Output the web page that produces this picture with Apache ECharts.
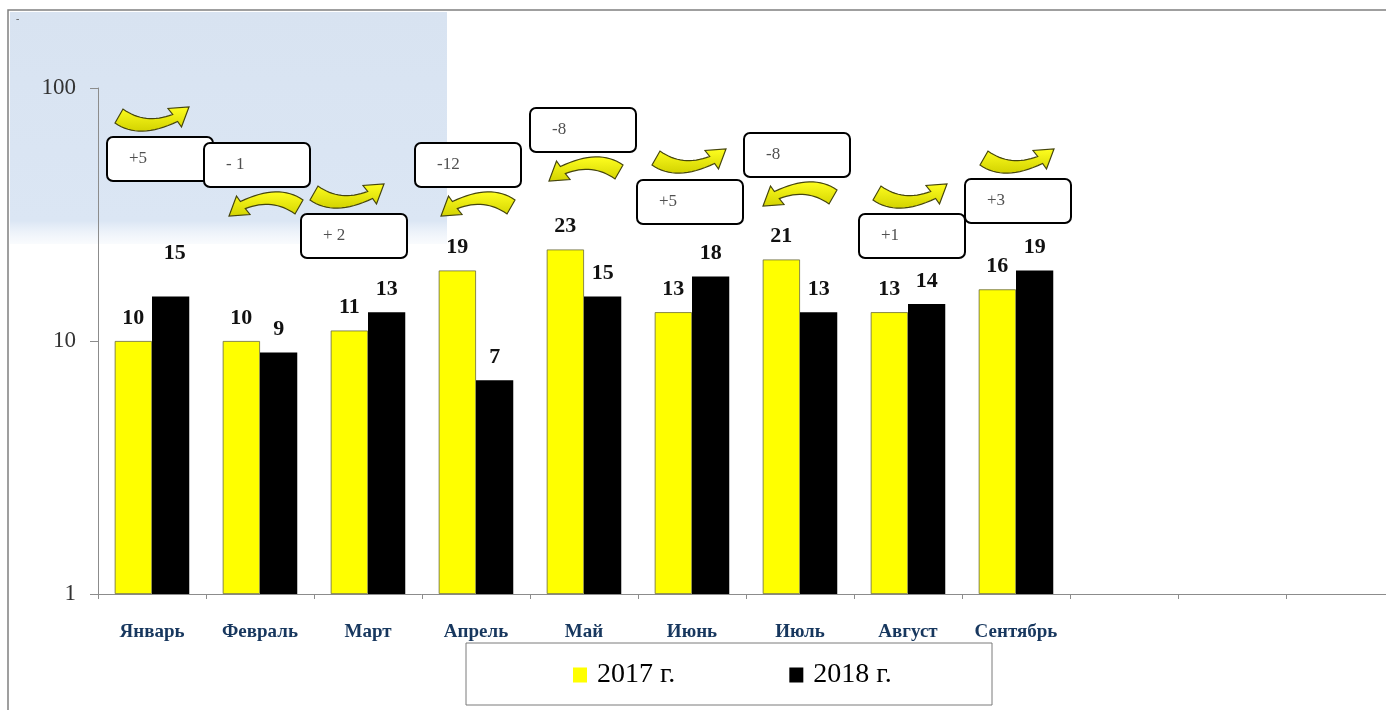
<!DOCTYPE html>
<html><head><meta charset="utf-8">
<script src="https://cdn.jsdelivr.net/npm/echarts@6/dist/echarts.min.js"></script>
<style>html,body{margin:0;padding:0;background:#fff;overflow:hidden}#c{width:1394px;height:710px}</style>
</head><body><div id="c"></div>
<script>
// ---- data ----
const categories = ['Январь','Февраль','Март','Апрель','Май','Июнь','Июль','Август','Сентябрь','','',''];
const values2017 = [10,10,11,19,23,13,21,13,16,null,null,null];
const values2018 = [15,9,13,7,15,18,13,14,19,null,null,null];
const seriesNames = ['2017 г.','2018 г.'];
const yTickLabels = ['1','10','100'];
const changeLabels = ['+5','- 1','+ 2','-12','-8','+5','-8','+1','+3'];

// ---- annotation layout (pixel offsets from category centre / absolute top) ----
const annotLayout = [
  {box:[-45,137], arrow:[-37,106]},
  {box:[-56,143], arrow:[-31,193]},
  {box:[-67,214], arrow:[-58,183]},
  {box:[-61,143], arrow:[-35,193]},
  {box:[-54,108], arrow:[-35,158]},
  {box:[-55,180], arrow:[-40,148]},
  {box:[-56,133], arrow:[-37,183]},
  {box:[-49,214], arrow:[-35,183]},
  {box:[-51,179], arrow:[-36,148]}
];

const SERIF = '"Liberation Serif","DejaVu Serif",serif';
const chart = echarts.init(document.getElementById('c'));

function mkData(vals, overrides){
  return vals.map((v,i)=> overrides[i] ? {value:v, label:overrides[i]} : v);
}
const labelBase = {show:true, position:'top', distance:12, fontFamily:SERIF, fontWeight:'bold', fontSize:22, color:'#111'};

const option = {
  animation:false,
  backgroundColor:'#fff',
  grid:{left:98, right:0, top:88, bottom:116, containLabel:false},
  legend:{
    data:seriesNames, left:568, top:656, icon:'rect', itemWidth:14, itemHeight:15, itemGap:114,
    selectedMode:false, itemStyle:{borderWidth:0},
    textStyle:{fontFamily:SERIF, fontSize:28, color:'#000', padding:[0,0,0,5]}
  },
  xAxis:{
    type:'category', data:categories,
    axisLine:{lineStyle:{color:'#8c8c8c', width:1}},
    axisTick:{show:true, length:5, lineStyle:{color:'#8c8c8c'}},
    axisLabel:{interval:0, margin:29, fontFamily:SERIF, fontWeight:'bold', fontSize:19, color:'#17375e'},
    splitLine:{show:false}
  },
  yAxis:{
    type:'log', logBase:10, min:1, max:100,
    axisLine:{show:true, lineStyle:{color:'#8c8c8c', width:1}},
    axisTick:{show:true, length:8, lineStyle:{color:'#8c8c8c'}},
    axisLabel:{margin:22, fontFamily:SERIF, fontSize:23, color:'#333',
      formatter:(v)=>{const s=String(Math.round(v)); return yTickLabels.includes(s)?s:'';}},
    splitLine:{show:false}
  },
  series:[
    {name:seriesNames[0], type:'bar', barGap:'0%', barCategoryGap:'31%',
     itemStyle:{color:'#ffff00', borderColor:'#6b6b3a', borderWidth:0.8},
     label:labelBase, data:mkData(values2017,{})},
    {name:seriesNames[1], type:'bar', barGap:'0%', barCategoryGap:'31%',
     itemStyle:{color:'#000000'},
     label:labelBase, data:mkData(values2018,{0:{offset:[4,-20]}})}
  ]
};
chart.setOption(option);

// ---- decorations ----
function quad(p0,c,p1,n){
  const out=[];
  for(let k=0;k<=n;k++){const t=k/n,u=1-t;
    out.push([u*u*p0[0]+2*u*t*c[0]+t*t*p1[0], u*u*p0[1]+2*u*t*c[1]+t*t*p1[1]]);}
  return out;
}
function arrowPoints(flip){
  const W=74,H=24;
  let pts = [].concat(
    quad([0,17],[24,34],[62.6,15.4],16),
    [[66.5,21],[74,1],[53,2.5]],
    quad([57.7,8.4],[30,19],[8,3],16)
  );
  if(flip) pts = pts.map(p=>[W-p[0],H-p[1]]);
  return pts;
}
const graphics = [
  {type:'rect', z:-10, shape:{x:10,y:12,width:437,height:232},
   style:{fill:new echarts.graphic.LinearGradient(0,0,0,1,[
     {offset:0,color:'#d8e3f1'},{offset:0.9,color:'#dbe6f4'},{offset:1,color:'rgba(236,242,250,0.3)'}])}},
  {type:'rect', z:-9, shape:{x:8,y:10,width:1400,height:720}, style:{fill:'none', stroke:'#808080', lineWidth:1.5}},
  {type:'text', z:-8, x:16, y:14, style:{text:'-', font:'10px '+SERIF, fill:'#555'}}
];
annotLayout.forEach((L,i)=>{
  const cx = chart.convertToPixel({gridIndex:0},[i,10])[0];
  const diff = values2018[i]-values2017[i];
  graphics.push({type:'polygon', z:50, x:cx+L.arrow[0], y:L.arrow[1],
    shape:{points:arrowPoints(diff<0)},
    style:{fill:new echarts.graphic.LinearGradient(0,0,0,1,[{offset:0,color:'#ffff20'},{offset:1,color:'#d2d200'}]), stroke:'#45450c', lineWidth:1.2}});
  graphics.push({type:'group', z:60, x:cx+L.box[0], y:L.box[1], children:[
    {type:'rect', z:60+i, shape:{x:0,y:0,width:106,height:44,r:6}, style:{fill:'#fff', stroke:'#000', lineWidth:2}},
    {type:'text', z:61+i, x:22, y:22, style:{text:changeLabels[i], font:'17px '+SERIF, fill:'#505050', verticalAlign:'middle'}}
  ]});
});
graphics.push({type:'rect', z:-5, shape:{x:466,y:643,width:526,height:62}, style:{fill:'#fff', stroke:'#7a7a7a', lineWidth:1}});
chart.setOption({graphic:graphics});
</script></body></html>
